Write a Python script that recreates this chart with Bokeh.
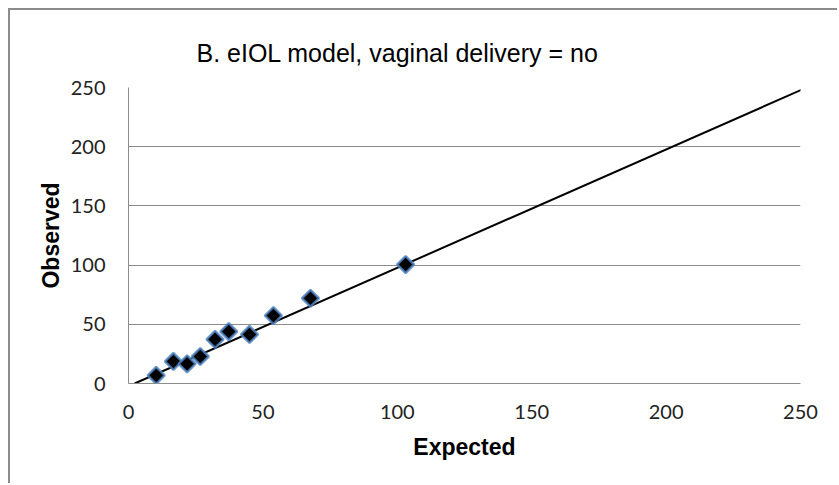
import math
from bokeh.plotting import figure
from bokeh.models import Range1d, FixedTicker
from bokeh.embed import file_html
from bokeh.resources import INLINE

expected = [10.3, 16.7, 21.8, 26.7, 32.2, 37.3, 45.0, 53.9, 67.7, 103.1]
observed = [6.8, 18.6, 16.6, 22.8, 37.2, 43.9, 41.4, 57.4, 72.0, 100.5]
line_x = [2.3, 251.5]
line_y = [0.0, 249.2]
ticks = [0, 50, 100, 150, 200, 250]

W, H = 829, 475
p = figure(width=W, height=H, output_backend="svg", toolbar_location=None,
           x_range=Range1d(0, 250), y_range=Range1d(0, 250),
           min_border_left=118, min_border_right=39, min_border_top=77, min_border_bottom=102)
p.styles = {"margin-left": "8px", "margin-top": "8px",
            "border-top": "2px solid #8c8c8c", "border-left": "2px solid #8c8c8c"}
p.outline_line_color = None
p.background_fill_color = "white"
p.border_fill_color = "white"

p.title.text = "B. eIOL model, vaginal delivery = no"
p.title.text_font = "Liberation Sans"
p.title.text_font_size = "25px"
p.title.text_font_style = "normal"
p.title.text_color = "black"
p.title.align = "left"
p.title.offset = 68
p.title.standoff = 41

for ax in (p.xaxis[0], p.yaxis[0]):
    ax.ticker = FixedTicker(ticks=ticks)
    ax.major_tick_line_color = None
    ax.minor_tick_line_color = None
    ax.axis_line_color = "#8c8c8c"
    ax.axis_line_width = 1
    ax.major_label_text_font = "Lato"
    ax.major_label_text_font_size = "20px"
    ax.major_label_text_color = "#222222"
    ax.axis_label_text_font = "Liberation Sans"
    ax.axis_label_text_font_style = "bold"
    ax.axis_label_text_font_size = "23px"
    ax.axis_label_text_color = "black"

p.xaxis.axis_label = "Expected"
p.yaxis.axis_label = "Observed"
p.xaxis.major_label_standoff = 15
p.yaxis.major_label_standoff = 17
p.xaxis.axis_label_standoff = 12
p.yaxis.axis_label_standoff = 4

p.xgrid.grid_line_color = None
p.ygrid.ticker = FixedTicker(ticks=ticks)
p.ygrid.grid_line_color = "#8c8c8c"
p.ygrid.grid_line_width = 1

p.line(line_x, line_y, line_color="black", line_width=2)
p.scatter(expected, observed, marker="square", size=12, angle=math.pi / 4,
          fill_color="black", line_color="#4f86c6", line_width=2.5, line_alpha=0.8)

open("out.html", "w").write(file_html(p, INLINE))
